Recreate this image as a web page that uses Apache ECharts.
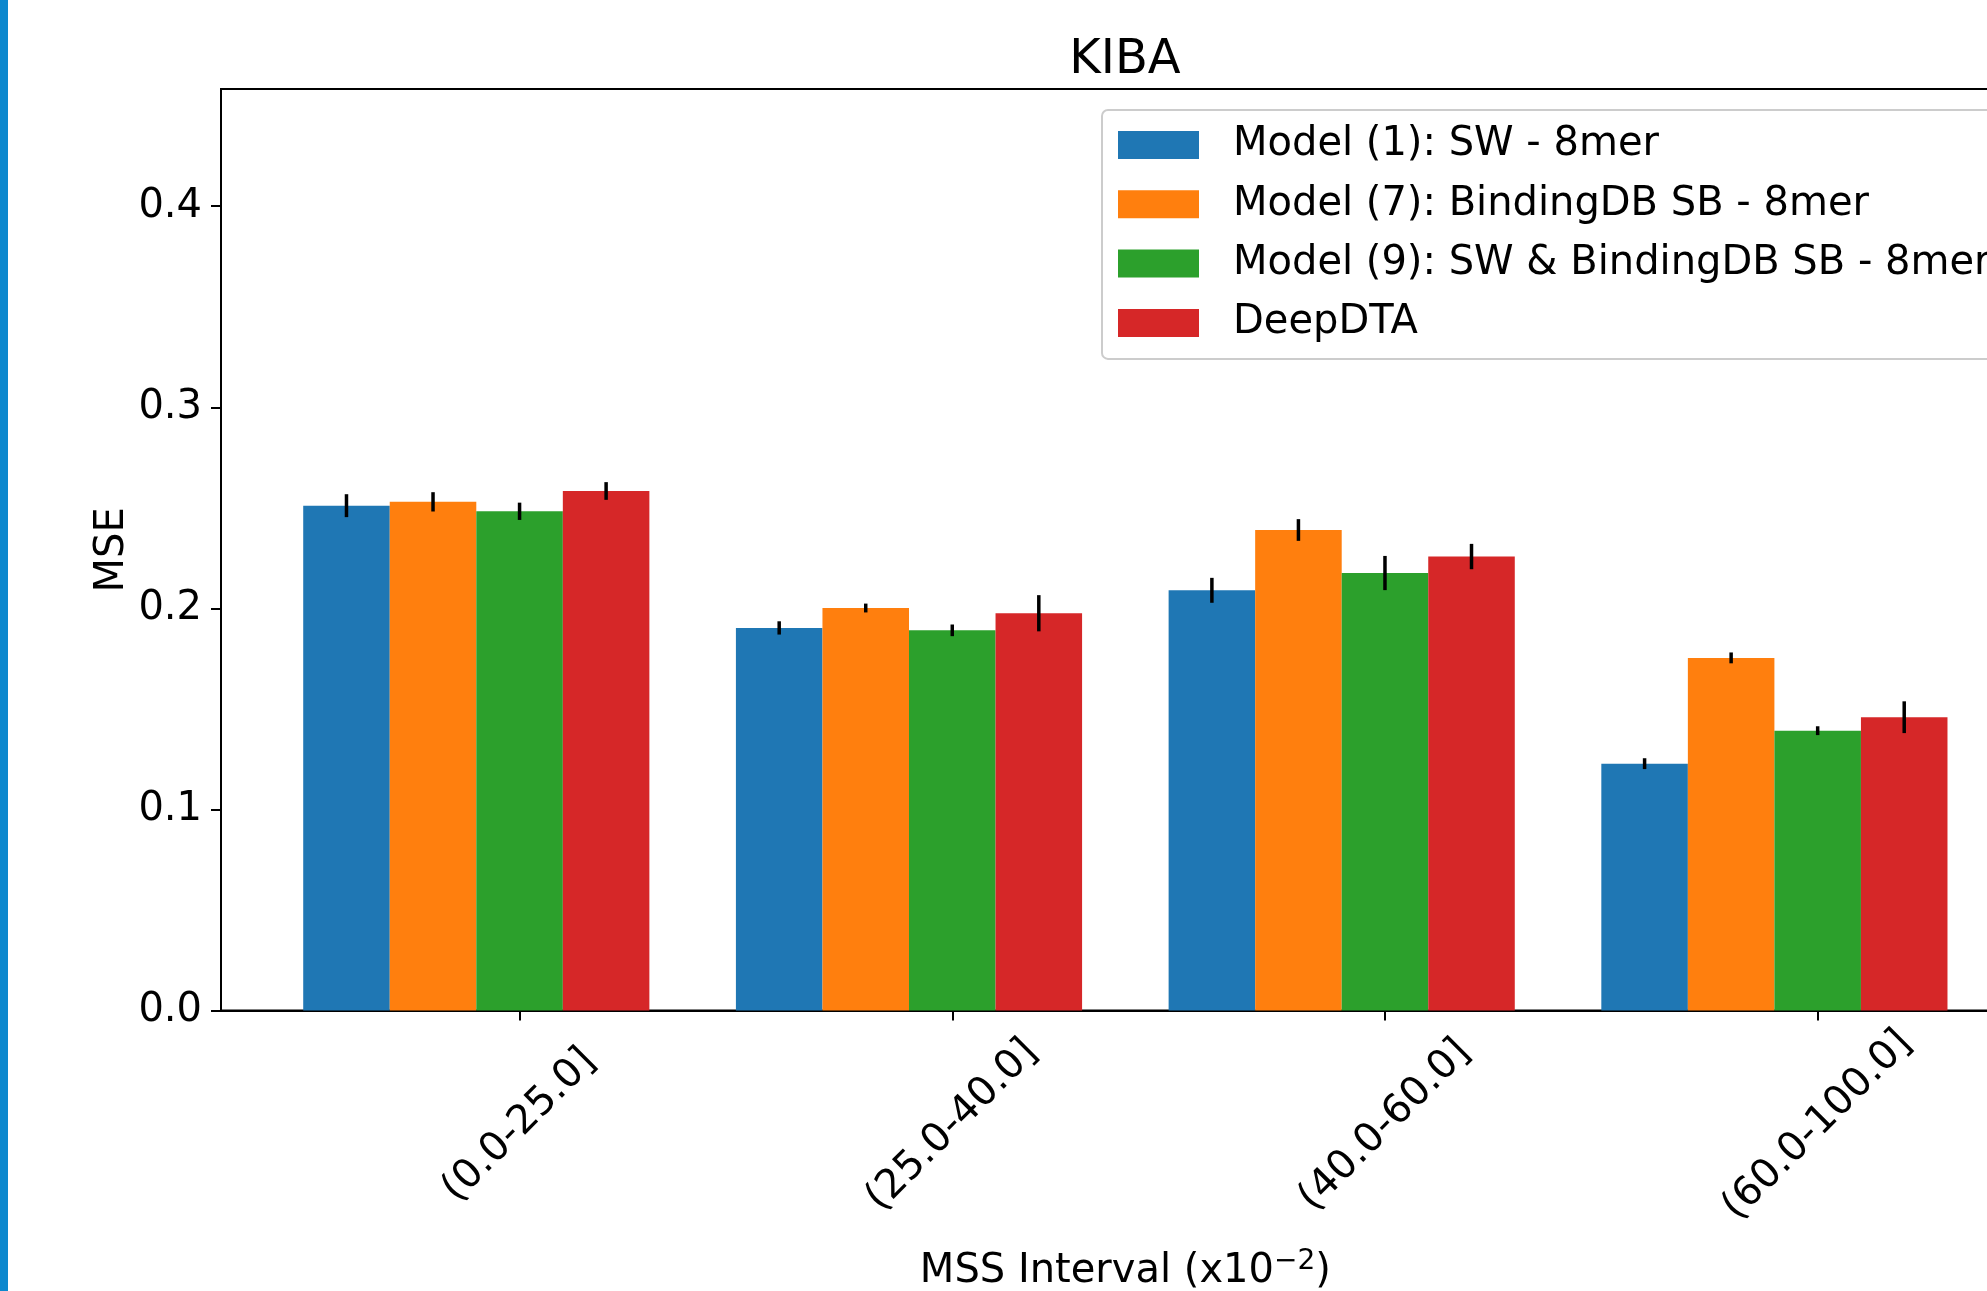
<!DOCTYPE html>
<html>
<head>
<meta charset="utf-8">
<script src="https://cdn.jsdelivr.net/npm/echarts@6/dist/echarts.min.js"></script>
<style>
html,body{margin:0;padding:0;background:#fff;}
#chart{width:1987px;height:1291px;}
</style>
</head>
<body>
<div id="chart"></div>
<script>
// ---- data ----
const categories = ['(0.0-25.0]', '(25.0-40.0]', '(40.0-60.0]', '(60.0-100.0]'];
const seriesNames = ['Model (1): SW - 8mer', 'Model (7): BindingDB SB - 8mer', 'Model (9): SW & BindingDB SB - 8mer', 'DeepDTA'];
const model1 = [0.2511, 0.1903, 0.2090, 0.1228];
const model7 = [0.2530, 0.2002, 0.2390, 0.1754];
const model9 = [0.2483, 0.1891, 0.2176, 0.1392];
const deepdta = [0.2584, 0.1976, 0.2258, 0.1459];
const model1Err = [0.0057, 0.0033, 0.0062, 0.0027];
const model7Err = [0.0048, 0.0022, 0.0054, 0.0027];
const model9Err = [0.0043, 0.0029, 0.0085, 0.0022];
const deepdtaErr = [0.0044, 0.0090, 0.0063, 0.0079];
const yTicks = [0.0, 0.1, 0.2, 0.3, 0.4];
const colors = ['#1f77b4', '#ff7f0e', '#2ca02c', '#d62728'];

// ---- layout ----
const FONT = 'DejaVu Sans';
const FS = 40;
const xMin = -0.69, xMax = 3.49;
const gridLeft = 221, gridTop = 89, gridWidth = 1808.7, gridHeight = 921.6;
const barUnit = 0.2;
const barPx = barUnit * gridWidth / (xMax - xMin);
const offsets = [-0.4, -0.2, 0, 0.2];
const allVals = [model1, model7, model9, deepdta];
const allErrs = [model1Err, model7Err, model9Err, deepdtaErr];

const series = [];
allVals.forEach((vals, k) => {
  series.push({
    type: 'bar',
    name: seriesNames[k],
    data: vals.map((v, i) => [i + offsets[k], v]),
    barWidth: barPx,
    barGap: '-100%',
    itemStyle: { color: colors[k] },
    emphasis: { disabled: true },
    z: 2
  });
});
allVals.forEach((vals, k) => {
  series.push({
    type: 'custom',
    name: 'err' + k,
    data: vals.map((v, i) => [i + offsets[k], v - allErrs[k][i], v + allErrs[k][i]]),
    encode: { x: 0, y: [1, 2] },
    renderItem: function (params, api) {
      const x = api.value(0);
      const lo = api.coord([x, api.value(1)]);
      const hi = api.coord([x, api.value(2)]);
      return {
        type: 'line',
        shape: { x1: lo[0], y1: lo[1], x2: hi[0], y2: hi[1] },
        style: { stroke: '#000', lineWidth: 3.5 }
      };
    },
    silent: true,
    z: 5
  });
});

const chart = echarts.init(document.getElementById('chart'), null, { renderer: 'canvas' });
chart.setOption({
  animation: false,
  backgroundColor: '#ffffff',
  textStyle: { fontFamily: FONT },
  graphic: [{
    type: 'rect', left: 0, top: 0,
    shape: { width: 8, height: 1291 },
    style: { fill: '#0c88ce' }, silent: true
  }],
  title: {
    text: 'KIBA',
    left: 1125, top: 37, textAlign: 'center', padding: 0,
    textStyle: { fontFamily: FONT, fontSize: 48, fontWeight: 'normal', color: '#000' }
  },
  legend: {
    orient: 'vertical',
    left: 1102, top: 110,
    padding: [15, 40, 16, 16],
    data: seriesNames,
    icon: 'rect',
    itemWidth: 81, itemHeight: 28, itemGap: 19.3,
    backgroundColor: 'rgba(255,255,255,0.8)',
    borderColor: '#cccccc', borderWidth: 2, borderRadius: 6,
    itemStyle: { borderWidth: 0 },
    textStyle: { fontFamily: FONT, fontSize: FS, color: '#000', padding: [0, 0, 0, 29] },
    selectedMode: false
  },
  grid: {
    left: gridLeft, top: gridTop, width: gridWidth, height: gridHeight,
    outerBoundsMode: 'none', containLabel: false,
    show: true, borderColor: '#000', borderWidth: 2, backgroundColor: 'transparent'
  },
  xAxis: {
    type: 'value', min: xMin, max: xMax,
    name: '{n|MSS Interval (x10}{s|−2}{n|)}',
    nameLocation: 'middle', nameGap: 237, nameMoveOverlap: false,
    nameTextStyle: {
      rich: {
        n: { fontFamily: FONT, fontSize: FS, color: '#000', lineHeight: 48 },
        s: { fontFamily: FONT, fontSize: 28, color: '#000', verticalAlign: 'top', lineHeight: 30 }
      }
    },
    axisLine: { show: true, onZero: false, lineStyle: { color: '#000', width: 2 } },
    axisTick: { show: true, inside: false, length: 10, customValues: [0, 1, 2, 3], lineStyle: { color: '#000', width: 2 } },
    axisLabel: {
      customValues: [0, 1, 2, 3],
      formatter: v => categories[Math.round(v)],
      rotate: 45, align: 'center', verticalAlign: 'middle', margin: 115,
      fontFamily: FONT, fontSize: FS, color: '#000'
    },
    splitLine: { show: false }
  },
  yAxis: {
    type: 'value', min: 0, max: 0.4583,
    name: 'MSE', nameLocation: 'middle', nameGap: 88, nameRotate: 90, nameMoveOverlap: false,
    nameTextStyle: { fontFamily: FONT, fontSize: FS, color: '#000' },
    axisLine: { show: true, onZero: false, lineStyle: { color: '#000', width: 2 } },
    axisTick: { show: true, inside: false, length: 10, customValues: yTicks, lineStyle: { color: '#000', width: 2 } },
    axisLabel: {
      customValues: yTicks,
      formatter: v => v.toFixed(1),
      margin: 19, fontFamily: FONT, fontSize: FS, color: '#000'
    },
    splitLine: { show: false }
  },
  series: series
});
</script>
</body>
</html>
